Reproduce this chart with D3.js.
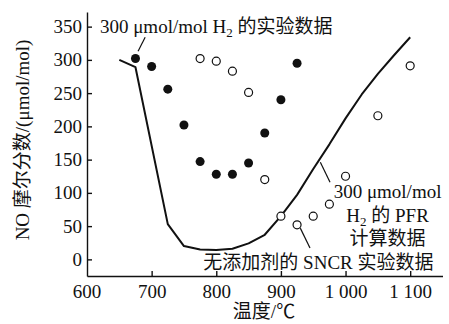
<!DOCTYPE html>
<html>
<head>
<meta charset="utf-8">
<script src="https://cdn.jsdelivr.net/npm/d3@7"></script>
<style>
  body { margin: 0; background: #fff; }
  svg { display: block; }
  text { font-family: "Liberation Serif", "Noto Sans CJK SC", serif; fill: #111; }
</style>
</head>
<body>
<div id="chart"></div>
<script>
// temperature (°C) / NO mole fraction (umol/mol)
var expTemp = [675, 700, 725, 750, 775, 800, 825, 850, 875, 900, 925];
var expNO   = [302, 290, 256, 202, 147, 128, 128, 145, 190, 240, 295];

var sncrTemp = [775, 800, 825, 850, 875, 900, 925, 950, 975, 1000, 1050, 1100];
var sncrNO   = [302, 298, 283, 251, 120, 65, 52, 65, 83, 125, 216, 291];

var pfrTemp = [650, 675, 725, 750, 775, 800, 825, 850, 875, 900, 925, 950, 975, 1000, 1025, 1050, 1075, 1100];
var pfrNO   = [300, 289, 53, 20, 15, 14, 16, 24, 37, 65, 97, 136, 173, 212, 248, 279, 307, 334];

var xTicks = [600, 700, 800, 900, 1000, 1100];
var yTicks = [0, 50, 100, 150, 200, 250, 300, 350];

var w = 449, h = 324;
var fs = 19;

var x = d3.scaleLinear().domain([600, 1150]).range([87, 442.5]);
var y = d3.scaleLinear().domain([-25, 372]).range([276, 12]);

var svg = d3.select("#chart").append("svg")
    .attr("width", w)
    .attr("height", h);

// axes, ticks pointing inward
var xAxis = d3.axisBottom(x).tickValues(xTicks.slice(1))
    .tickSizeInner(-5).tickSizeOuter(0).tickPadding(9)
    .tickFormat(d => d3.format(",")(d).replace(",", " "));
var yAxis = d3.axisLeft(y).tickValues(yTicks)
    .tickSizeInner(-5).tickSizeOuter(0).tickPadding(5);

var gx = svg.append("g")
    .attr("transform", "translate(0," + y.range()[0] + ")")
    .call(xAxis);
var gy = svg.append("g")
    .attr("transform", "translate(" + x.range()[0] + ",0)")
    .call(yAxis);

// 600 label sits under the y axis
gx.append("text").attr("x", x(xTicks[0])).attr("y", 9).attr("dy", "0.71em")
    .attr("text-anchor", "middle").text(xTicks[0]);

svg.selectAll(".domain, .tick line").attr("stroke", "#111").attr("stroke-width", 1.4);
svg.selectAll(".tick text").attr("font-size", fs)
    .style("font-family", "'Liberation Serif', serif").attr("fill", "#111");
gx.selectAll("text").attr("font-size", fs).attr("fill", "#111");

// axis titles
svg.append("text")
    .attr("text-anchor", "middle")
    .attr("transform", "translate(29,140)rotate(-90)")
    .attr("font-size", fs)
    .text("NO 摩尔分数/(μmol/mol)");

svg.append("text")
    .attr("text-anchor", "middle")
    .attr("x", 264).attr("y", 318)
    .attr("font-size", fs)
    .text("温度/℃");

// PFR calculated line
var line = d3.line().x(d => x(d[0])).y(d => y(d[1]));
svg.append("path")
    .datum(pfrTemp.map((t, i) => [t, pfrNO[i]]))
    .attr("fill", "none")
    .attr("stroke", "#111")
    .attr("stroke-width", 2)
    .attr("stroke-linejoin", "round")
    .attr("d", line);

// experimental points
svg.selectAll("circle.exp").data(expTemp)
    .enter().append("circle")
    .attr("class", "exp")
    .attr("cx", d => x(d))
    .attr("cy", (d, i) => y(expNO[i]))
    .attr("r", 4.5)
    .attr("fill", "#111");

svg.selectAll("circle.sncr").data(sncrTemp)
    .enter().append("circle")
    .attr("class", "sncr")
    .attr("cx", d => x(d))
    .attr("cy", (d, i) => y(sncrNO[i]))
    .attr("r", 4)
    .attr("fill", "#fff")
    .attr("stroke", "#111")
    .attr("stroke-width", 1.2);

// annotations, leader ends given in data units
var leaders = [
  [[679, 313], [690, 334]],
  [[961, 146], [976, 116]],
  [[930, 47], [945, 17]]
];
svg.selectAll("line.leader").data(leaders)
    .enter().append("line")
    .attr("class", "leader")
    .attr("x1", d => x(d[0][0])).attr("y1", d => y(d[0][1]))
    .attr("x2", d => x(d[1][0])).attr("y2", d => y(d[1][1]))
    .attr("stroke", "#111").attr("stroke-width", 1.2);

function h2(sel) {
  sel.append("tspan").text("H");
  sel.append("tspan").attr("font-size", 13).attr("dy", 4).text("2");
  sel.append("tspan").attr("dy", -4).text(" 的");
}

var t1 = svg.append("text").attr("x", x(620)).attr("y", y(340)).attr("font-size", fs);
t1.append("tspan").text("300 μmol/mol ");
h2(t1);
t1.append("tspan").text("实验数据");

var cx2 = x(1065);
svg.append("text").attr("x", cx2).attr("y", y(92)).attr("text-anchor", "middle")
    .attr("font-size", fs).text("300 μmol/mol");
var t2 = svg.append("text").attr("x", cx2).attr("y", y(56)).attr("text-anchor", "middle")
    .attr("font-size", fs);
h2(t2);
t2.append("tspan").text(" PFR");
svg.append("text").attr("x", cx2).attr("y", y(22)).attr("text-anchor", "middle")
    .attr("font-size", fs).text("计算数据");

svg.append("text").attr("x", x(780)).attr("y", y(-14.5))
    .attr("font-size", fs).text("无添加剂的 SNCR 实验数据");
</script>
</body>
</html>
